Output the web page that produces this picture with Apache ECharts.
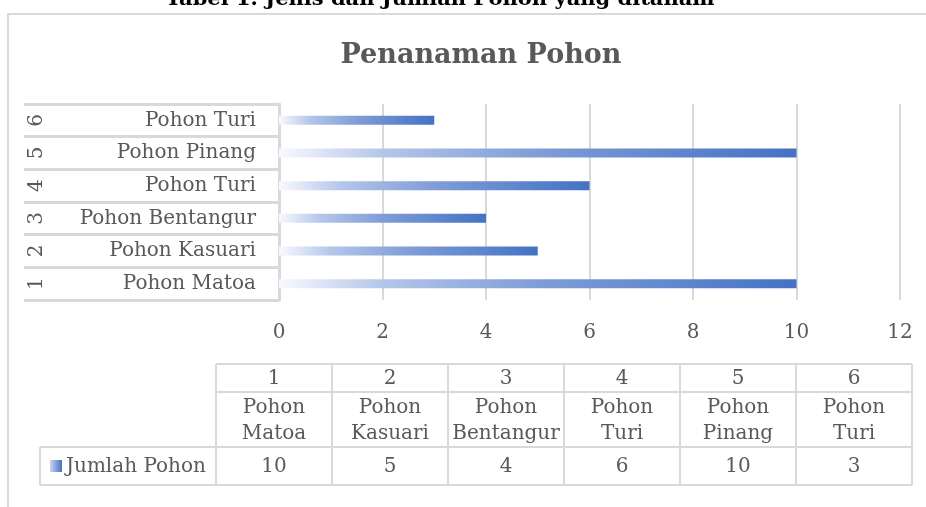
<!DOCTYPE html>
<html>
<head>
<meta charset="utf-8">
<script src="https://cdn.jsdelivr.net/npm/echarts@6/dist/echarts.min.js"></script>
<style>html,body{margin:0;padding:0;background:#fff;}#c{width:926px;height:507px;}</style>
</head>
<body>
<div id="c"></div>
<script>
var categoryNums = ['1', '2', '3', '4', '5', '6'];
var categoryNames = ['Pohon Matoa', 'Pohon Kasuari', 'Pohon Bentangur', 'Pohon Turi', 'Pohon Pinang', 'Pohon Turi'];
var values = [10, 5, 4, 6, 10, 3];
var seriesName = 'Jumlah Pohon';
var xMin = 0, xMax = 12, xStep = 2;
var pageTitle = 'Tabel 1. Jenis dan Jumlah Pohon yang ditanam';
var chartTitle = 'Penanaman Pohon';

var FONT = '"DejaVu Serif", serif';
var TXT = '#595959';
var LINE = '#d9d9d9';

var barGrad = new echarts.graphic.LinearGradient(0, 0, 1, 0, [
  {offset: 0, color: '#f8f9fd'},
  {offset: 0.2, color: '#b4c6ea'},
  {offset: 0.5, color: '#7f9dd7'},
  {offset: 1, color: '#4472c4'}
]);

var chart = echarts.init(document.getElementById('c'), null, {renderer: 'canvas'});

// data table built from arrays
var tL = 216, colW = 116, legL = 40;
var rowY = [364, 392, 447, 485];
var tR = tL + colW * values.length;
var g = [];
g.push({type: 'rect', shape: {x: 8, y: 14, width: 940, height: 520}, style: {fill: 'none', stroke: LINE, lineWidth: 2}, z: -1});
g.push({type: 'text', x: 440, y: 0, style: {text: pageTitle, font: 'bold 21px ' + FONT, fill: '#000', align: 'center', verticalAlign: 'middle'}});
function hline(x1, x2, y) { g.push({type: 'line', shape: {x1: x1, y1: y, x2: x2, y2: y}, style: {stroke: LINE, lineWidth: 2}}); }
function vline(x, y1, y2) { g.push({type: 'line', shape: {x1: x, y1: y1, x2: x, y2: y2}, style: {stroke: LINE, lineWidth: 2}}); }
hline(tL, tR, rowY[0]);
hline(tL, tR, rowY[1]);
hline(legL, tR, rowY[2]);
hline(legL, tR, rowY[3]);
vline(legL, rowY[2], rowY[3]);
for (var k = 0; k <= values.length; k++) vline(tL + k * colW, rowY[0], rowY[3]);
for (var i = 0; i < values.length; i++) {
  var cx = tL + colW * i + colW / 2;
  g.push({type: 'text', x: cx, y: (rowY[0] + rowY[1]) / 2 + 1, style: {text: categoryNums[i], font: '20px ' + FONT, fill: TXT, align: 'center', verticalAlign: 'middle'}});
  g.push({type: 'text', x: cx, y: (rowY[1] + rowY[2]) / 2 + 1, style: {text: categoryNames[i].replace(' ', '\n'), font: '20px ' + FONT, lineHeight: 26, fill: TXT, align: 'center', verticalAlign: 'middle'}});
  g.push({type: 'text', x: cx, y: (rowY[2] + rowY[3]) / 2 + 1, style: {text: String(values[i]), font: '20px ' + FONT, fill: TXT, align: 'center', verticalAlign: 'middle'}});
}
g.push({type: 'rect', shape: {x: 50, y: 460, width: 12, height: 12}, style: {fill: new echarts.graphic.LinearGradient(0, 0, 1, 0, [{offset: 0, color: '#c9d6ef'}, {offset: 1, color: '#4472c4'}])}});
g.push({type: 'text', x: 66, y: (rowY[2] + rowY[3]) / 2 + 1, style: {text: seriesName, font: '20px ' + FONT, fill: TXT, align: 'left', verticalAlign: 'middle'}});

chart.setOption({
  backgroundColor: '#fff',
  animation: false,
  title: {
    text: chartTitle, left: 476, top: 37, textAlign: 'center',
    textStyle: {fontFamily: FONT, fontSize: 27, fontWeight: 'bold', color: TXT}
  },
  grid: {left: 279, right: 26, top: 104, bottom: 207, containLabel: false},
  xAxis: {
    type: 'value', min: xMin, max: xMax, interval: xStep,
    axisLine: {show: false}, axisTick: {show: false},
    splitLine: {show: true, lineStyle: {color: LINE, width: 2}},
    axisLabel: {fontFamily: FONT, fontSize: 20, color: TXT, margin: 23}
  },
  yAxis: [{
    type: 'category', data: categoryNums,
    axisLine: {show: true, lineStyle: {color: LINE, width: 3}},
    axisTick: {show: true, length: 255, lineStyle: {color: LINE, width: 3}},
    axisLabel: {fontFamily: FONT, fontSize: 20, color: TXT, margin: 23,
      formatter: function (v, idx) { return categoryNames[idx]; }}
  }, {
    type: 'category', data: categoryNums, position: 'left',
    axisLine: {show: false}, axisTick: {show: false},
    axisLabel: {fontFamily: FONT, fontSize: 20, color: TXT, rotate: 90, margin: 232}
  }],
  series: [{
    type: 'bar', name: seriesName, data: values, yAxisIndex: 0,
    barWidth: 9, itemStyle: {color: barGrad}
  }],
  graphic: g
});
</script>
</body>
</html>
